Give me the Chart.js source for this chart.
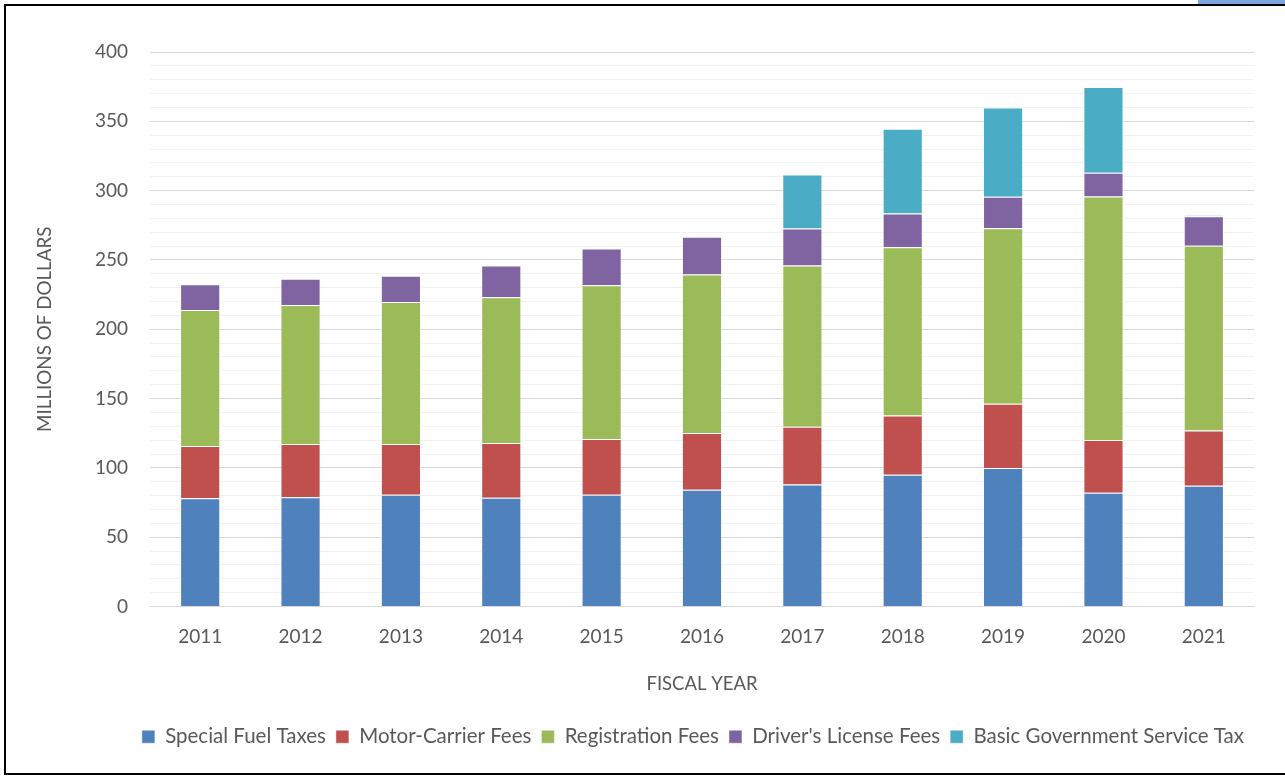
<!DOCTYPE html>
<html>
<head>
<meta charset="utf-8">
<title>Fiscal Year Revenues</title>
<script src="https://cdn.jsdelivr.net/npm/chart.js@4.4.1/dist/chart.umd.min.js"></script>
<style>
    html, body { margin: 0; padding: 0; background: #fff; }
    .wrap { position: relative; width: 1285px; height: 776px; overflow: hidden; }
    .wrap canvas { position: absolute; left: 0; top: 0; }
    .frame { position: absolute; left: 4px; top: 4px; width: 1300px; height: 767px; border: 2px solid #000; border-right: none; pointer-events: none; }
    .tab { position: absolute; left: 1198px; top: 0; width: 87px; height: 4px; background: #7aa6dc; }
</style>
</head>
<body>
<div class="wrap">
    <canvas id="revChart" width="1285" height="776"></canvas>
    <div class="frame"></div>
    <div class="tab"></div>
</div>

<script>
    // fiscal years and revenue by source (millions of dollars)
    var years = ['2011', '2012', '2013', '2014', '2015', '2016', '2017', '2018', '2019', '2020', '2021'];
    var specialFuelTaxes = [78.1, 78.8, 80.6, 78.4, 80.6, 84.2, 88.0, 95.1, 99.9, 82.0, 87.1];
    var motorCarrierFees = [37.7, 38.4, 36.6, 39.6, 40.3, 41.0, 41.6, 42.7, 46.3, 38.1, 39.9];
    var registrationFees = [98.1, 100.3, 102.5, 105.0, 110.8, 114.3, 116.4, 121.3, 126.6, 175.7, 133.3];
    var licenseFees = [18.6, 18.9, 18.9, 23.0, 26.6, 27.3, 26.6, 24.4, 22.7, 17.1, 21.2];
    var serviceTax = [0, 0, 0, 0, 0, 0, 39.1, 61.1, 64.5, 61.9, 0.7];

    var seriesNames = ['Special Fuel Taxes', 'Motor-Carrier Fees', 'Registration Fees', "Driver's License Fees", 'Basic Government Service Tax'];
    var seriesColors = ['#4f81bd', '#c0504d', '#9bbb59', '#8064a2', '#4bacc6'];
    var seriesData = [specialFuelTaxes, motorCarrierFees, registrationFees, licenseFees, serviceTax];

    var textColor = '#595959';
    var fontFamily = 'Lato, "Open Sans", sans-serif';

    var datasets = seriesData.map(function (d, i) {
        return {
            label: seriesNames[i],
            data: d,
            backgroundColor: seriesColors[i],
            borderColor: 'rgba(255, 255, 255, 0.45)',
            borderWidth: 1,
            barPercentage: 0.4,
            categoryPercentage: 1.0
        };
    });

    Chart.defaults.font.family = fontFamily;
    Chart.defaults.color = textColor;

    new Chart(document.getElementById('revChart').getContext('2d'), {
        type: 'bar',
        data: { labels: years, datasets: datasets },
        options: {
            responsive: false,
            animation: false,
            layout: { padding: { left: 0, right: 31, top: 52, bottom: 19 } },
            plugins: {
                tooltip: { enabled: false },
                legend: {
                    position: 'bottom',
                    align: 'end',
                    labels: {
                        boxWidth: 13,
                        boxHeight: 13,
                        padding: 10,
                        color: textColor,
                        font: { size: 20.5 }
                    }
                }
            },
            scales: {
                x: {
                    stacked: true,
                    grid: { display: false },
                    border: { display: true, color: '#d9d9d9', width: 1 },
                    ticks: { color: textColor, font: { size: 19 }, padding: 11 },
                    title: {
                        display: true,
                        text: 'FISCAL YEAR',
                        color: textColor,
                        font: { size: 18.5 },
                        padding: 21
                    },
                    afterFit: function (scale) { scale.height = 110; }
                },
                y: {
                    stacked: true,
                    min: 0,
                    max: 400,
                    border: { display: false },
                    grid: {
                        drawTicks: false,
                        lineWidth: 1,
                        color: function (ctx) {
                            return ctx.tick && ctx.tick.value % 50 === 0 ? '#d9d9d9' : '#f2f2f2';
                        }
                    },
                    ticks: {
                        stepSize: 10,
                        autoSkip: false,
                        padding: 22,
                        color: textColor,
                        font: { size: 19 },
                        callback: function (v) { return v % 50 === 0 ? v : ''; }
                    },
                    title: {
                        display: true,
                        text: 'MILLIONS OF DOLLARS',
                        color: textColor,
                        font: { size: 18.8 },
                        padding: 34
                    },
                    afterFit: function (scale) { scale.width = 150; }
                }
            }
        }
    });
</script>
</body>
</html>
